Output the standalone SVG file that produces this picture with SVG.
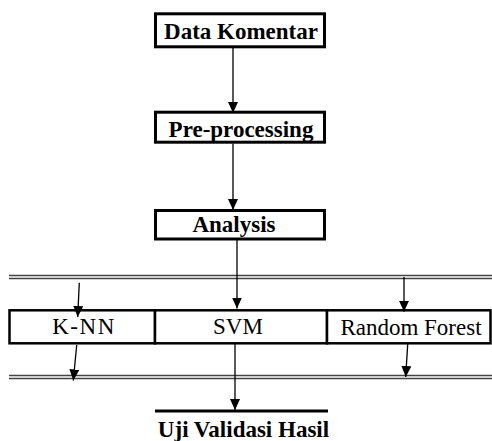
<svg xmlns="http://www.w3.org/2000/svg" width="492" height="441" viewBox="0 0 492 441">
<defs>
<marker id="ah" markerUnits="userSpaceOnUse" markerWidth="11" markerHeight="10" viewBox="0 0 11 10" refX="11" refY="5" orient="auto">
<path d="M0,0 L11,5 L0,10 z" fill="#000"/>
</marker>
</defs>
<style>
.box{fill:#fff;stroke:#000;stroke-width:3}
.row{fill:#fff;stroke:#000;stroke-width:2.5}
text{font-family:'Liberation Serif','Times New Roman',serif;font-size:23px;fill:#000;text-anchor:middle}
.bt{font-weight:bold}
.dl{stroke:#444;stroke-width:1.3}
.c{stroke:#000;stroke-width:1.3;fill:none;marker-end:url(#ah)}
</style>
<rect width="492" height="441" fill="#fff"/>
<g id="separators">
<line class="dl" x1="9" y1="275.5" x2="492" y2="275.5"/>
<line class="dl" x1="9" y1="278.5" x2="492" y2="278.5"/>
<line class="dl" x1="9" y1="375.5" x2="492" y2="375.5"/>
<line class="dl" x1="9" y1="378.5" x2="492" y2="378.5"/>
</g>
<g id="data-komentar">
<rect class="box" x="155.5" y="13.8" width="169" height="33"/>
<text class="bt" x="241" y="38.5">Data Komentar</text>
</g>
<g id="pre-processing">
<rect class="box" x="155.5" y="112.2" width="169" height="30"/>
<text class="bt" x="241" y="136.5">Pre-processing</text>
</g>
<g id="analysis">
<rect class="box" x="155.5" y="210.5" width="169" height="28.5"/>
<text class="bt" x="234" y="232">Analysis</text>
</g>
<g id="knn">
<rect class="row" x="9.5" y="310.3" width="145.5" height="33"/>
<text x="84" y="334" letter-spacing="1.5">K-NN</text>
</g>
<g id="svm">
<rect class="row" x="155" y="310.3" width="172" height="33"/>
<text x="238" y="334">SVM</text>
</g>
<g id="random-forest">
<rect class="row" x="327" y="310.3" width="163.5" height="33"/>
<text x="411" y="335">Random Forest</text>
</g>
<g id="uji-validasi-hasil">
<line x1="155" y1="411" x2="328" y2="411" stroke="#000" stroke-width="3"/>
<text class="bt" x="243.5" y="436.5">Uji Validasi Hasil</text>
</g>
<g id="connectors">
<line class="c" x1="233" y1="47.5" x2="233" y2="113"/>
<line class="c" x1="233" y1="143.5" x2="233" y2="210"/>
<line class="c" x1="237" y1="240" x2="237" y2="308.5"/>
<line class="c" x1="79.3" y1="282.7" x2="77.7" y2="317"/>
<line class="c" x1="404" y1="277" x2="404" y2="311.7"/>
<line class="c" x1="76.7" y1="345" x2="73.3" y2="380.5"/>
<line class="c" x1="407.7" y1="344" x2="405.7" y2="377"/>
<line class="c" x1="235" y1="344" x2="235" y2="410"/>
</g>
</svg>
